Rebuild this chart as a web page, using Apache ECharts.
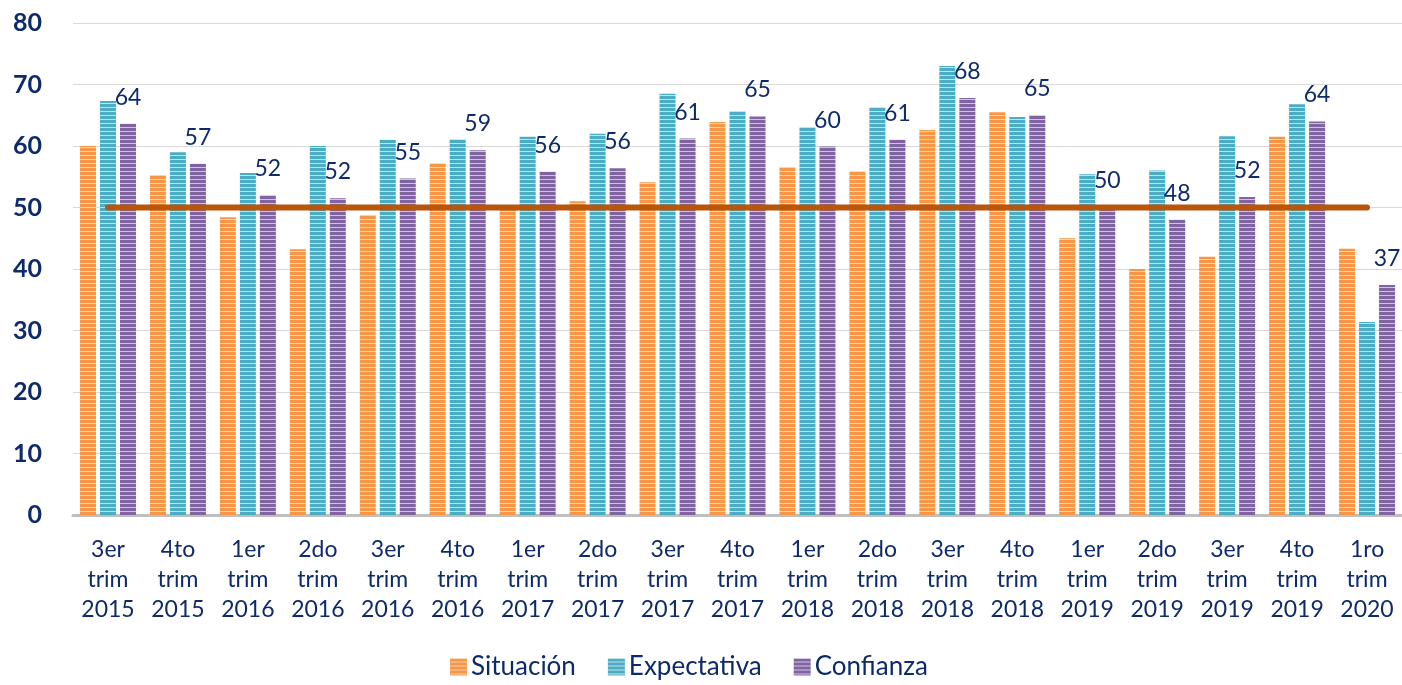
<!DOCTYPE html>
<html>
<head>
<meta charset="utf-8">
<script src="https://cdn.jsdelivr.net/npm/echarts@6/dist/echarts.min.js"></script>
<style>
  html, body { margin: 0; padding: 0; background: #fff; }
  #chart { width: 1402px; height: 685px; }
</style>
</head>
<body>
<div id="chart"></div>
<script>
// trimestres
const categories = [
  '3er\ntrim\n2015', '4to\ntrim\n2015', '1er\ntrim\n2016', '2do\ntrim\n2016',
  '3er\ntrim\n2016', '4to\ntrim\n2016', '1er\ntrim\n2017', '2do\ntrim\n2017',
  '3er\ntrim\n2017', '4to\ntrim\n2017', '1er\ntrim\n2018', '2do\ntrim\n2018',
  '3er\ntrim\n2018', '4to\ntrim\n2018', '1er\ntrim\n2019', '2do\ntrim\n2019',
  '3er\ntrim\n2019', '4to\ntrim\n2019', '1ro\ntrim\n2020'
]
const situacion = [60, 55.3, 48.4, 43.2, 48.8, 57.2, 50, 51, 54.1, 63.9, 56.6, 55.9, 62.6, 65.5, 45, 40, 42, 61.5, 43.3]
const expectativa = [67.3, 59, 55.6, 60, 61, 61.1, 61.5, 62, 68.5, 65.7, 63.1, 66.3, 73, 64.7, 55.4, 56, 61.6, 66.8, 31.4]
const confianza = [63.6, 57.1, 52, 51.5, 54.7, 59.3, 55.8, 56.4, 61.2, 64.8, 59.9, 61, 67.8, 65, 50, 48, 51.7, 64, 37.4]
const umbral = categories.map(() => 50)
const yTicks = [0, 10, 20, 30, 40, 50, 60, 70, 80]

const navy = '#0D2B6B'
const font = 'Lato, "Open Sans", sans-serif'

// rayado horizontal como en el original
const stripe = (base, light) => {
  const c = document.createElement('canvas')
  c.width = 4
  c.height = 4
  const ctx = c.getContext('2d')
  ctx.fillStyle = base
  ctx.fillRect(0, 0, 4, 4)
  ctx.fillStyle = light
  ctx.fillRect(0, 3, 4, 1)
  return { image: c, repeat: 'repeat' }
}

const chart = echarts.init(document.getElementById('chart'))
const option = {
  animation: false,
  grid: {
    left: 73,
    right: 0,
    top: 23,
    bottom: 170
  },
  legend: {
    bottom: 0,
    left: 445,
    itemWidth: 17,
    itemHeight: 17,
    itemGap: 32,
    icon: 'rect',
    data: ['Situación', 'Expectativa', 'Confianza'],
    textStyle: { color: navy, fontSize: 26, fontFamily: font, padding: [0, 0, 0, -1] }
  },
  xAxis: {
    type: 'category',
    data: categories,
    axisLine: { lineStyle: { color: '#BFBFBF', width: 3 } },
    axisTick: { show: false },
    axisLabel: {
      color: navy,
      fontSize: 23,
      fontFamily: font,
      lineHeight: 30,
      margin: 20,
      interval: 0
    }
  },
  yAxis: {
    type: 'value',
    min: yTicks[0],
    max: yTicks[yTicks.length - 1],
    interval: 10,
    axisLine: { show: false },
    axisTick: { show: false },
    splitLine: { lineStyle: { color: '#D9D9D9', width: 1 } },
    axisLabel: {
      color: navy,
      fontSize: 25,
      fontWeight: 'bold',
      fontFamily: font,
      margin: 31
    }
  },
  series: [
    {
      name: 'Situación',
      type: 'bar',
      data: situacion,
      barWidth: 16,
      barGap: '25%',
      itemStyle: { color: stripe('#F79646', '#FBD3B0') }
    },
    {
      name: 'Expectativa',
      type: 'bar',
      data: expectativa,
      barWidth: 16,
      barGap: '25%',
      itemStyle: { color: stripe('#4BACC6', '#BFE2EC') }
    },
    {
      name: 'Confianza',
      type: 'bar',
      data: confianza,
      barWidth: 16,
      barGap: '25%',
      itemStyle: { color: stripe('#8064A2', '#CFC4DE') },
      label: {
        show: true,
        position: 'top',
        distance: 15,
        color: navy,
        fontSize: 23,
        fontFamily: font,
        formatter: (p) => Math.round(p.value)
      }
    },
    {
      name: 'Umbral',
      type: 'line',
      data: umbral,
      symbol: 'none',
      silent: true,
      z: 5,
      lineStyle: { color: '#B8560C', width: 6, cap: 'round' }
    }
  ]
}
chart.setOption(option)
</script>
</body>
</html>
